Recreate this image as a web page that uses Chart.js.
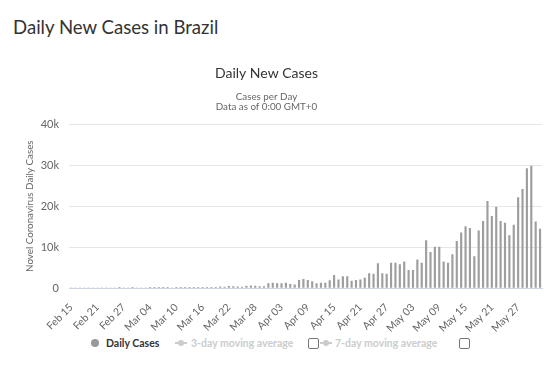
<!DOCTYPE html>
<html>
<head>
<meta charset="utf-8">
<script src="https://cdn.jsdelivr.net/npm/chart.js@4"></script>
<style>
  html, body { margin: 0; padding: 0; background: #fff; }
  body { width: 554px; height: 367px; position: relative; overflow: hidden; font-family: 'Lato', sans-serif; }
  h1 { position: absolute; left: 13px; top: 15px; margin: 0; font-size: 18.6px; line-height: 24px; font-weight: normal; color: #333; }
  #wrap { position: absolute; left: -11px; top: 55px; width: 565px; height: 278px; }
  .lg { position: absolute; top: 336px; height: 14px; line-height: 14px; font-size: 10.5px; font-weight: bold; white-space: nowrap; }
  .dot { position: absolute; width: 8px; height: 8px; border-radius: 50%; top: 339px; }
  .line { position: absolute; height: 2px; top: 342px; background: #ccc; }
  .ldot { position: absolute; width: 6px; height: 6px; border-radius: 50%; top: 340px; background: #ccc; }
  .box { position: absolute; width: 9px; height: 9px; top: 338px; border: 1px solid #777; border-radius: 2px; background: #fff; }
</style>
</head>
<body>
<h1>Daily New Cases in Brazil</h1>
<div id="wrap"><canvas id="c"></canvas></div>

<div class="dot" style="left:91px;background:#999"></div>
<div class="lg" style="left:106px;color:#333">Daily Cases</div>
<div class="line" style="left:175px;width:12px"></div><div class="ldot" style="left:178px"></div>
<div class="lg" style="left:191px;color:#ccc">3-day moving average</div>
<div class="box" style="left:308px"></div>
<div class="line" style="left:320px;width:12px"></div><div class="ldot" style="left:323px"></div>
<div class="lg" style="left:335px;color:#ccc">7-day moving average</div>
<div class="box" style="left:459px"></div>

<script>
// Feb 15 .. Jun 01 (108 days)
const months = ['Feb', 'Mar', 'Apr', 'May', 'Jun'];
const monthDays = [29, 31, 30, 31, 30];
const dates = [];
(function () {
  let m = 0, d = 15;
  for (let i = 0; i < 108; i++) {
    dates.push(months[m] + ' ' + String(d).padStart(2, '0'));
    d++;
    if (d > monthDays[m]) { d = 1; m++; }
  }
})();

// daily new cases
const dailyCases = [
  0, 0, 0, 0, 0, 0, 0, 0, 0, 0,            // Feb 15 - Feb 24
  0, 1, 0, 0, 1, 0, 0, 0, 1, 4,            // Feb 25 - Mar 05
  5, 6, 6, 0, 9, 18, 25, 21, 23, 79,       // Mar 06 - Mar 15
  34, 57, 137, 193, 283, 224, 418, 345, 310, 232, // Mar 16 - Mar 25
  482, 502, 487, 352, 323, 1100, 1200, 1100, 1100, 1200, // Mar 26 - Apr 04
  900, 800, 1900, 2100, 1900, 1600, 1100, 1200, 1200, 1800, // Apr 05 - Apr 14
  3100, 2000, 2800, 2800, 1700, 1900, 2000, 2400, 3500, 3400, // Apr 15 - Apr 24
  6000, 3500, 3400, 6100, 6100, 5700, 6400, 4300, 4300, 6900, // Apr 25 - May 04
  6100, 11600, 8700, 10000, 10000, 6400, 6100, 8200, 11400, 13500, // May 05 - May 14
  15000, 14600, 7700, 14000, 16300, 21200, 17500, 19800, 16300, 15900, // May 15 - May 24
  12800, 15400, 22100, 24100, 29200, 29800, 16200, 14400  // May 25 - Jun 01
];

const yTicks = [0, 10000, 20000, 30000, 40000];
const yTickLabels = ['0', '10k', '20k', '30k', '40k'];

new Chart(document.getElementById('c').getContext('2d'), {
  type: 'bar',
  data: {
    labels: dates,
    datasets: [{
      label: 'Daily Cases',
      data: dailyCases,
      backgroundColor: '#9e9e9e',
      barThickness: 1.5,
      borderWidth: 0
    }]
  },
  options: {
    animation: false,
    responsive: true,
    maintainAspectRatio: false,
    layout: { padding: { left: 0, right: 10, top: 0, bottom: 0 } },
    plugins: {
      legend: { display: false },
      tooltip: { enabled: false },
      title: {
        display: true, text: 'Daily New Cases', color: '#333',
        font: { family: 'Lato', size: 14, weight: 'normal', lineHeight: 1.2 },
        padding: { top: 10, bottom: 9.5 }
      },
      subtitle: {
        display: true, text: ['Cases per Day', 'Data as of 0:00 GMT+0'], color: '#666',
        font: { family: 'Lato', size: 9.8, lineHeight: 1.05 },
        padding: { top: 0, bottom: 12.5 }
      }
    },
    scales: {
      x: {
        grid: { display: false },
        border: { color: '#ccd6eb' },
        ticks: {
          autoSkip: false, minRotation: 45, maxRotation: 45, padding: 5,
          color: '#666', font: { family: 'Lato', size: 10.5 },
          callback: (v, i) => (i % 6 === 0 ? dates[i] : '')
        },
        afterFit: s => { s.height = 45; }
      },
      y: {
        min: 0, max: 40000,
        afterBuildTicks: s => { s.ticks = yTicks.map(v => ({ value: v })); },
        ticks: {
          color: '#666', font: { family: 'Lato', size: 11 }, padding: 10,
          callback: v => yTickLabels[yTicks.indexOf(v)]
        },
        grid: { color: '#e6e6e6', drawTicks: false },
        border: { display: false },
        title: {
          display: true, text: 'Novel Coronavirus Daily Cases', color: '#666',
          font: { family: 'Lato', size: 9.8 }, padding: { top: 35, bottom: 0 }
        },
        afterFit: s => { s.width = 80; }
      }
    }
  }
});
</script>
</body>
</html>
